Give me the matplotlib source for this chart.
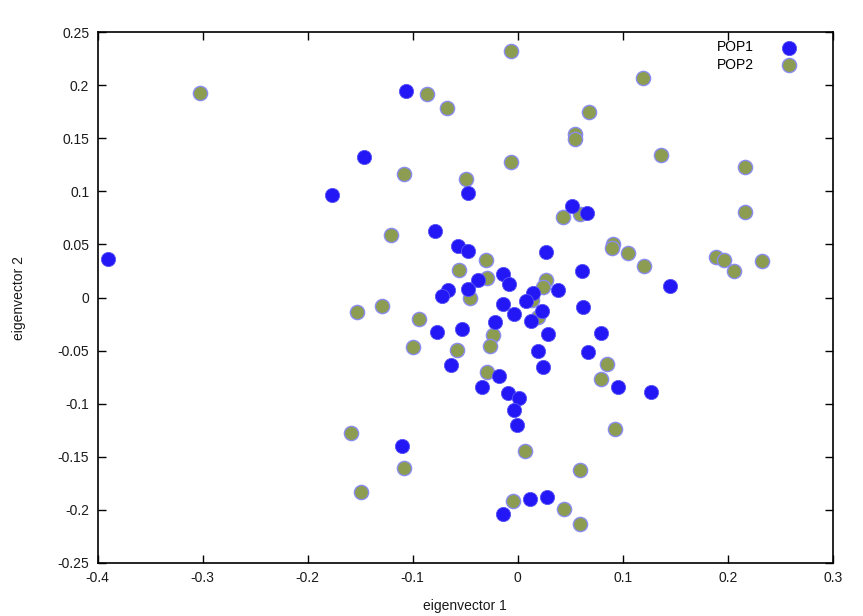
import matplotlib
matplotlib.use("Agg")
import matplotlib.pyplot as plt

plt.rcParams['font.family'] = ['Liberation Sans', 'DejaVu Sans']

# eigenvector 1 / eigenvector 2 coordinates
pop1_x = [-0.1067, -0.146, -0.177, -0.0788, -0.0565, -0.066, -0.0718, -0.390, -0.047, 0.0514,
          0.0657, 0.145, 0.027, 0.061, -0.047, -0.0375, -0.0143, -0.008, -0.047, 0.0387,
          0.0143, 0.0079, -0.0143, 0.0625, -0.0035, 0.0234, 0.0127, -0.0771, -0.0533, -0.0216,
          0.0286, 0.079, 0.019, 0.0667, -0.0638, 0.0244, -0.0175, -0.0343, -0.009, 0.0015,
          -0.0035, -0.001, 0.0958, 0.127, 0.0117, 0.0282, -0.0143, -0.1102]
pop1_y = [0.195, 0.132, 0.0966, 0.063, 0.049, 0.0075, 0.0012, 0.0364, 0.0985, 0.0866,
          0.0797, 0.0109, 0.0433, 0.025, 0.0436, 0.0163, 0.0219, 0.0132, 0.0081, 0.0069,
          0.0047, -0.0035, -0.0063, -0.0085, -0.0157, -0.0126, -0.022, -0.0324, -0.0301, -0.023,
          -0.0346, -0.033, -0.0503, -0.0512, -0.0635, -0.0653, -0.0741, -0.0847, -0.0898, -0.0951,
          -0.1061, -0.1202, -0.0847, -0.0889, -0.19, -0.1883, -0.2043, -0.1397]

pop2_x = [-0.3026, -0.0861, -0.067, -0.108, -0.1207, -0.0556, -0.129, -0.153, -0.0064, 0.1196,
          0.0682, 0.0549, 0.0549, 0.136, 0.2165, -0.0064, -0.0495, 0.0429, 0.0593, 0.2165,
          0.091, 0.090, 0.105, 0.1206, 0.1889, 0.1968, 0.206, 0.233, -0.0302, -0.0295,
          -0.0454, 0.0267, 0.0244, 0.0136, 0.0196, -0.0937, -0.0238, -0.0264, -0.1, -0.0581,
          0.0848, -0.0295, 0.0793, 0.007, 0.0927, 0.0593, -0.0042, 0.0444, 0.0593, -0.1585,
          -0.1083, -0.149]
pop2_y = [0.193, 0.192, 0.179, 0.116, 0.0593, 0.026, -0.0082, -0.0141, 0.2326, 0.2065,
          0.1748, 0.1544, 0.149, 0.134, 0.123, 0.1274, 0.1117, 0.0759, 0.079, 0.0806,
          0.0508, 0.0467, 0.0424, 0.0298, 0.0386, 0.0358, 0.0248, 0.0345, 0.0358, 0.0185,
          -0.0004, 0.0163, 0.010, -0.0025, -0.0183, -0.0198, -0.0355, -0.0459, -0.0465, -0.049,
          -0.0628, -0.0706, -0.0772, -0.1444, -0.124, -0.1626, -0.192, -0.1993, -0.2138, -0.1275,
          -0.161, -0.1836]

x_ticks = [-0.4, -0.3, -0.2, -0.1, 0, 0.1, 0.2, 0.3]
y_ticks = [-0.25, -0.2, -0.15, -0.1, -0.05, 0, 0.05, 0.1, 0.15, 0.2, 0.25]

fig = plt.figure(figsize=(8.63, 6.16), dpi=100)
ax = fig.add_axes([0.1132, 0.0864, 0.8517, 0.8612])

ax.scatter(pop1_x, pop1_y, s=105, c="#2318f5", edgecolors="#5a55f5", linewidths=0.6,
           label="POP1", zorder=3)
ax.scatter(pop2_x, pop2_y, s=105, c="#8c9c50", edgecolors="#8a8cf0", linewidths=1.0,
           label="POP2", zorder=2)

ax.set_xlim(-0.4, 0.3)
ax.set_ylim(-0.25, 0.25)
ax.set_xticks(x_ticks)
ax.set_xticklabels(['-0.4', '-0.3', '-0.2', '-0.1', '0', '0.1', '0.2', '0.3'])
ax.set_yticks(y_ticks)
ax.set_yticklabels(['-0.25', '-0.2', '-0.15', '-0.1', '-0.05', '0', '0.05', '0.1', '0.15', '0.2', '0.25'])
ax.tick_params(direction='in', top=True, right=True, length=6, width=1,
               labelsize=10, labelcolor='#1a1a1a', pad=6)
for sp in ax.spines.values():
    sp.set_linewidth(1.2)

ax.set_xlabel('eigenvector 1', fontsize=10, color='#1a1a1a', labelpad=10)
ax.set_ylabel('eigenvector 2', fontsize=10, color='#1a1a1a', labelpad=23)

ax.legend(loc='upper right', bbox_to_anchor=(0.974, 1.006), frameon=False, markerfirst=False,
          fontsize=10, handletextpad=1.5, labelspacing=0.25, borderpad=0.3)

fig.savefig("out.png", dpi=100)
